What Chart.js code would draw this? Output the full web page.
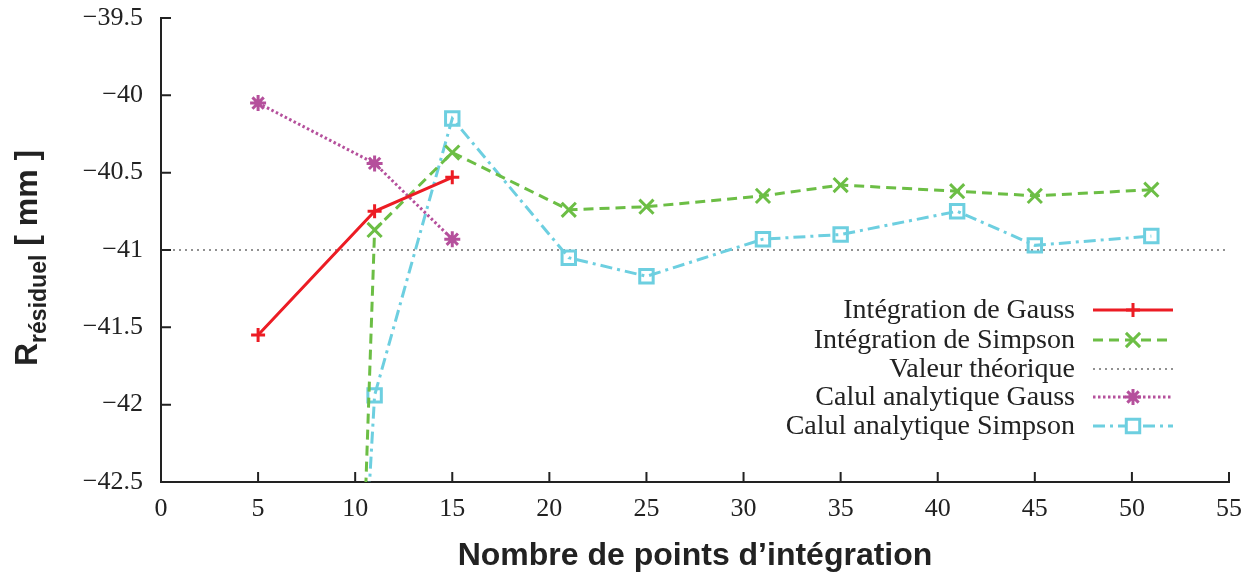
<!DOCTYPE html>
<html>
<head>
<meta charset="utf-8">
<script src="https://cdn.jsdelivr.net/npm/chart.js@4.4.1/dist/chart.umd.min.js"></script>
<style>
  body { margin: 0; background: #fff; }
  canvas { display: block; }
</style>
</head>
<body>
<canvas id="residuChart" width="1258" height="572"></canvas>
<script>
// values
const xTickValues = [0, 5, 10, 15, 20, 25, 30, 35, 40, 45, 50, 55];
const yTickValues = [-42.5, -42, -41.5, -41, -40.5, -40, -39.5];

const xGauss = [5, 11, 15];
const gauss = [-41.55, -40.75, -40.53];
const analytiqueGauss = [-40.05, -40.44, -40.93];

const xSimpson = [5, 11, 15, 21, 25, 31, 35, 41, 45, 51];
const simpson = [-62.8, -40.87, -40.37, -40.74, -40.72, -40.65, -40.58, -40.62, -40.65, -40.61];
const analytiqueSimpson = [-55.0, -41.94, -40.15, -41.05, -41.17, -40.93, -40.9, -40.75, -40.97, -40.91];

const xTheorique = [0, 55];
const theorique = [-41, -41];

const legendLabels = ['Intégration de Gauss', 'Intégration de Simpson', 'Valeur théorique',
  'Calul analytique Gauss', 'Calul analytique Simpson'];

function pts(xs, ys) {
  return xs.map((v, i) => ({ x: v, y: ys[i] }));
}

// minus sign like the original
function fmt(v) {
  return (v < 0 ? '\u2212' : '') + Math.abs(v);
}

const serif = 'Liberation Serif';
const sans = 'Liberation Sans';

const datasets = [
  {
    label: legendLabels[0], data: pts(xGauss, gauss),
    borderColor: '#ec1c24', backgroundColor: 'rgba(0,0,0,0)', borderWidth: 3,
    pointStyle: 'cross', pointRadius: 7, pointBorderWidth: 3, order: 1
  },
  {
    label: legendLabels[1], data: pts(xSimpson, simpson),
    borderColor: '#6cbe45', backgroundColor: 'rgba(0,0,0,0)', borderWidth: 3, borderDash: [10, 6],
    pointStyle: 'crossRot', pointRadius: 10, pointBorderWidth: 3, order: 2
  },
  {
    label: legendLabels[2], data: pts(xTheorique, theorique),
    borderColor: '#6e6e6e', borderWidth: 1.5, borderDash: [2, 4], pointRadius: 0, order: 5
  },
  {
    label: legendLabels[3], data: pts(xGauss, analytiqueGauss),
    borderColor: '#b5509c', backgroundColor: 'rgba(0,0,0,0)', borderWidth: 3, borderDash: [2.5, 2.5],
    pointStyle: 'star', pointRadius: 8, pointBorderWidth: 3, order: 3
  },
  {
    label: legendLabels[4], data: pts(xSimpson, analytiqueSimpson),
    borderColor: '#6dcfe0', backgroundColor: 'rgba(0,0,0,0)', borderWidth: 3, borderDash: [12, 5, 3, 5],
    pointStyle: 'rect', pointRadius: 9.5, pointBorderWidth: 3, order: 4
  }
];

const overlay = {
  id: 'overlay',
  afterDraw(chart) {
    const { ctx, chartArea: a, scales: { x, y } } = chart;
    ctx.save();

    // inward tick marks (gnuplot style)
    ctx.strokeStyle = '#222';
    ctx.lineWidth = 2;
    ctx.setLineDash([]);
    ctx.beginPath();
    xTickValues.forEach(v => {
      const px = x.getPixelForValue(v);
      ctx.moveTo(px, a.bottom);
      ctx.lineTo(px, a.bottom - 10);
    });
    yTickValues.forEach(v => {
      const py = y.getPixelForValue(v);
      ctx.moveTo(a.left, py);
      ctx.lineTo(a.left + 10, py);
    });
    ctx.stroke();

    // legend inside the plot, text right aligned before the sample
    const rows = [310, 340, 369, 397, 426];
    ctx.font = '28px "' + serif + '"';
    ctx.textAlign = 'right';
    ctx.textBaseline = 'middle';
    chart.data.datasets.forEach((ds, i) => {
      const ry = rows[i];
      ctx.fillStyle = '#222';
      ctx.fillText(ds.label, 1075, ry + 1);
      ctx.strokeStyle = ds.borderColor;
      ctx.lineWidth = ds.borderWidth;
      ctx.setLineDash(ds.borderDash || []);
      ctx.beginPath();
      ctx.moveTo(1093, ry);
      ctx.lineTo(1173, ry);
      ctx.stroke();
      if (ds.pointRadius > 0) {
        ctx.setLineDash([]);
        ctx.fillStyle = '#fff';
        ctx.lineWidth = ds.pointBorderWidth;
        Chart.helpers.drawPoint(ctx, {
          pointStyle: ds.pointStyle, radius: ds.pointRadius, rotation: 0, borderWidth: ds.pointBorderWidth
        }, 1133, ry);
      }
    });

    // x axis title
    ctx.fillStyle = '#222';
    ctx.textAlign = 'center';
    ctx.textBaseline = 'alphabetic';
    ctx.font = 'bold 32px "' + sans + '"';
    ctx.fillText('Nombre de points d\u2019intégration', (a.left + a.right) / 2, 565);

    // y axis title: R with subscript, rotated
    ctx.translate(37, 366);
    ctx.rotate(-Math.PI / 2);
    ctx.textAlign = 'left';
    ctx.font = 'bold 32px "' + sans + '"';
    ctx.fillText('R', 0, 0);
    let w = ctx.measureText('R').width;
    ctx.font = 'bold 23px "' + sans + '"';
    ctx.fillText('résiduel', w, 9);
    w += ctx.measureText('résiduel').width;
    ctx.font = 'bold 32px "' + sans + '"';
    ctx.fillText(' [ mm ]', w, 0);

    ctx.restore();
  }
};

new Chart(document.getElementById('residuChart'), {
  type: 'line',
  data: { datasets: datasets },
  options: {
    responsive: false,
    animation: false,
    layout: { padding: { left: 0, right: 29, top: 18, bottom: 0 } },
    plugins: { legend: { display: false }, tooltip: { enabled: false } },
    elements: { line: { tension: 0 } },
    scales: {
      x: {
        type: 'linear', min: 0, max: 55,
        grid: { display: false, drawTicks: false },
        border: { display: true, color: '#222', width: 2 },
        afterBuildTicks: s => { s.ticks = xTickValues.map(v => ({ value: v })); },
        afterFit: s => { s.height = 90; s.paddingLeft = 0; s.paddingRight = 0; },
        ticks: {
          color: '#222', padding: 12, maxRotation: 0, autoSkip: false,
          font: { family: serif, size: 26 }
        }
      },
      y: {
        type: 'linear', min: -42.5, max: -39.5,
        grid: { display: false, drawTicks: false },
        border: { display: true, color: '#222', width: 2 },
        afterBuildTicks: s => { s.ticks = yTickValues.map(v => ({ value: v })); },
        afterFit: s => { s.width = 161; s.paddingTop = 0; s.paddingBottom = 0; },
        ticks: {
          color: '#222', padding: 18, autoSkip: false,
          font: { family: serif, size: 26 },
          callback: v => fmt(v)
        }
      }
    }
  },
  plugins: [overlay]
});
</script>
</body>
</html>
